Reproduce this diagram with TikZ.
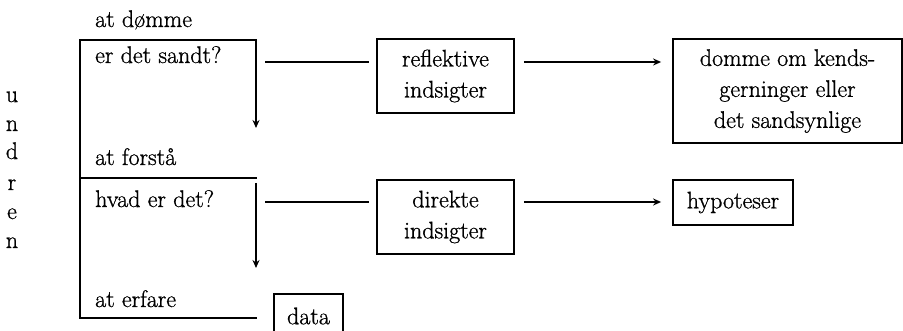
\documentclass[tikz,border=0pt]{standalone}
\usepackage{fontspec}
\setmainfont{Latin Modern Roman}[FakeBold=0.9]
\usetikzlibrary{arrows.meta}
\begin{document}
\begin{tikzpicture}[x=1pt,y=-1pt,
  txt/.style={font=\fontsize{24}{31}\selectfont, inner sep=0pt},
  lbl/.style={txt, anchor=base west},
  letter/.style={txt, anchor=base},
  boxnode/.style={draw, line width=1.8pt, font=\fontsize{24}{31}\selectfont, align=center, inner sep=0pt},
  brk/.style={line width=1.8pt},
  conn/.style={line width=1.6pt},
  arr/.style={line width=1.6pt, -{Stealth[length=8pt,width=7pt]}}
]
\useasboundingbox (0,0) rectangle (903,331);
\clip (0,0) rectangle (903,331);
\fill[white] (0,0) rectangle (903,331);

% left vertical word
\node[letter] (u1) at (12,102) {u};
\node[letter] (u2) at (12,131) {n};
\node[letter] (u3) at (12,159) {d};
\node[letter] (u4) at (12,190) {r};
\node[letter] (u5) at (12,219) {e};
\node[letter] (u6) at (12,248) {n};

% level labels
\node[lbl] (dom) at (95,27) {at dømme};
\node[lbl] (sandt) at (95,63) {er det sandt?};
\node[lbl] (forsta) at (95,165) {at forstå};
\node[lbl] (hvad) at (95,207) {hvad er det?};
\node[lbl] (erfare) at (95,307) {at erfare};

% boxes
\node[boxnode, minimum width=137pt, minimum height=74pt] (refl) at (445.5,76) {reflektive\\indsigter};
\node[boxnode, minimum width=229pt, minimum height=104pt] (domme) at (787.5,91) {domme om kends-\\gerninger eller\\det sandsynlige};
\node[boxnode, minimum width=137pt, minimum height=74pt] (dir) at (445.5,217) {direkte\\indsigter};
\node[boxnode, minimum width=120pt, minimum height=45pt] (hyp) at (733,202.5) {hypoteser};
\node[boxnode, minimum width=69pt, minimum height=44pt] (data) at (308.5,316) {data};

% bracket coordinates
\coordinate (tl) at (80,40);
\coordinate (tr) at (257,40);
\coordinate (ml) at (80,178);
\coordinate (mr) at (257,178);
\coordinate (bl) at (80,318);
\coordinate (br) at (257,318);
\coordinate (a1s) at (256,40);
\coordinate (a1e) at (256,128);
\coordinate (a2s) at (256,183);
\coordinate (a2e) at (256,268);

\draw[brk] (tr) -- (tl) -- (bl) -- (br);
\draw[brk] (ml) -- (mr);
\draw[arr] (a1s) -- (a1e);
\draw[arr] (a2s) -- (a2e);

% connectors row 1
\coordinate (s1) at (265,62);
\draw[conn, shorten >=7pt] (s1) -- (refl.west |- s1);
\draw[arr, shorten <=9pt, shorten >=11pt] (refl.east |- s1) -- (domme.west |- s1);

% connectors row 2
\coordinate (s2) at (265,202);
\draw[conn, shorten >=7pt] (s2) -- (dir.west |- s2);
\draw[arr, shorten <=9pt, shorten >=11pt] (dir.east |- s2) -- (hyp.west |- s2);
\end{tikzpicture}
\end{document}
